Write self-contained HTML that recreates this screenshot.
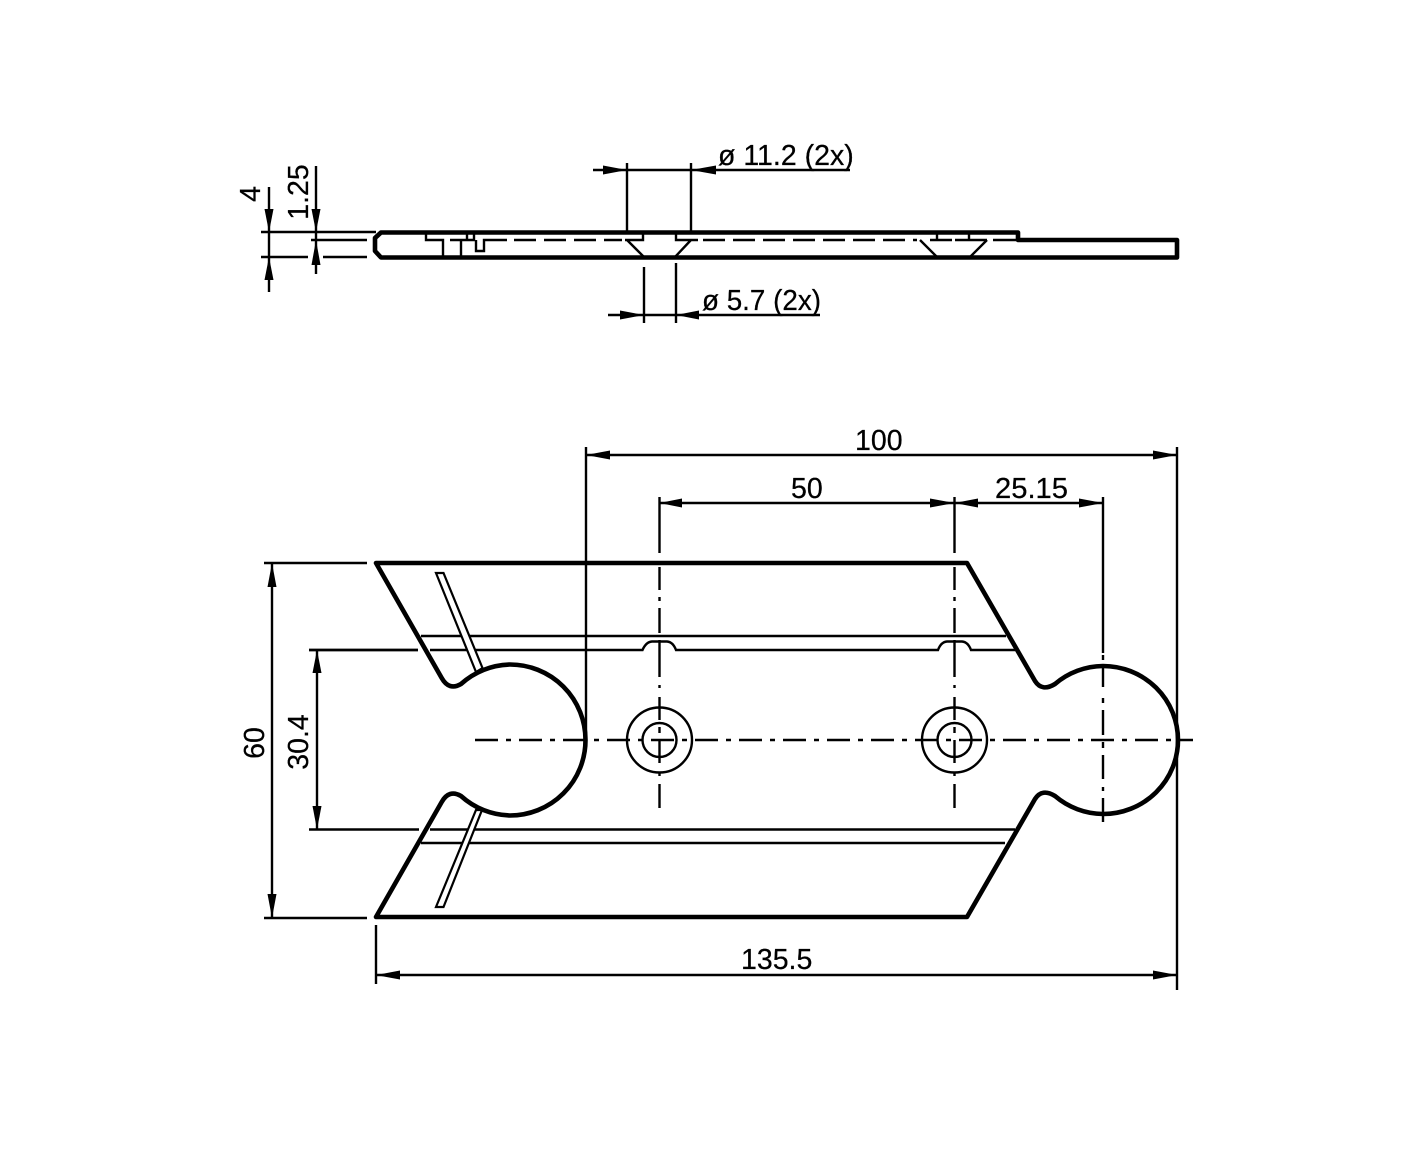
<!DOCTYPE html>
<html><head><meta charset="utf-8"><style>
html,body{margin:0;padding:0;background:#fff}
svg{display:block}
text{font-family:"Liberation Sans",sans-serif;font-size:28.5px;fill:#000;stroke:#000;stroke-width:.25}
.o{fill:none;stroke:#000;stroke-width:4.6;stroke-linejoin:round;stroke-linecap:round}
.t{fill:none;stroke:#000;stroke-width:2.4}
.h{fill:#000;stroke:none}
</style></head><body>
<svg width="1418" height="1170" viewBox="0 0 1418 1170" xmlns="http://www.w3.org/2000/svg">
<rect width="1418" height="1170" fill="#fff"/>

<!-- SIDE VIEW -->
<path class="t" d="M426 233V240H443V257M461 240V257M450 240H475M467 233V240M474 233V240M476 240V251H484V240H507"/>
<path class="t" stroke-dasharray="22 8" d="M514 240H622"/>
<path class="t" d="M627 240L644 257M691 240L675 257M625 240H643V233M676 233V240H698"/>
<path class="t" stroke-dasharray="22 8" d="M703 240H917"/>
<path class="t" d="M920 240L937 257M987 240L970 257M930 240H952M955 240H987M937 233V240M969 233V240M993 240H1016"/>
<path class="o" d="M381 232.500L1018 232.500V240H1177V257.500H381L375 251V238L381 232.500Z"/>

<!-- side dims -->
<path class="t" d="M261 232H376M311 240H367M261 257H308M323 257H367"/>
<path class="t" d="M269 187V292M316 166V274"/>
<polygon class="h" points="269,232 264.500,209 273.500,209"/>
<polygon class="h" points="269,257 264.500,280 273.500,280"/>
<polygon class="h" points="316,232 311.500,209 320.500,209"/>
<polygon class="h" points="316,240 311.500,265 320.500,265"/>
<text transform="translate(260 194) rotate(-90)" text-anchor="middle">4</text>
<text transform="translate(308 192) rotate(-90)" text-anchor="middle">1.25</text>

<path class="t" d="M627 163V232M691 163V232M593 170H850"/>
<polygon class="h" points="627,170 603,165.500 603,174.500"/>
<polygon class="h" points="691,170 716,165.500 716,174.500"/>
<text x="718" y="165">ø 11.2 (2x)</text>

<path class="t" d="M644 267V323M676 263V323M608 315H820"/>
<polygon class="h" points="644,315 620,310.500 620,319.500"/>
<polygon class="h" points="676,315 699,310.500 699,319.500"/>
<text x="702" y="310" textLength="119" lengthAdjust="spacingAndGlyphs">ø 5.7 (2x)</text>

<!-- PLAN VIEW inner lines -->
<path class="t" d="M421 636H1006"/>
<path class="t" d="M309 650H418M430 650H642.500Q646 642 652 641.500H667Q673 642 676 650H938Q941 642 947 641.500H962Q968 642 971 650H1015"/>
<path class="t" d="M309 829.500H419M430 829.500H1015"/>
<path class="t" d="M421 843H1005"/>
<polygon fill="#fff" stroke="#000" stroke-width="2.200" points="436,573 443.500,573 482.500,668 476,672"/>
<polygon fill="#fff" stroke="#000" stroke-width="2.200" points="436,907 443.500,907 482,810 476,810"/>

<!-- holes -->
<circle class="t" cx="659.500" cy="740" r="32.500"/>
<circle class="t" cx="659.500" cy="740" r="17"/>
<circle class="t" cx="954.500" cy="740" r="32.500"/>
<circle class="t" cx="954.500" cy="740" r="17"/>

<!-- outline -->
<path class="o" d="M376 563H967L1035 681Q1042 692 1055 684A75 75 0 0 1 1103 666A75 74 0 0 1 1178 740A75 74 0 0 1 1103 814A75 75 0 0 1 1055 796Q1042 788 1035 799L967 917H376L441.700 802Q449 789 461 796A75.500 75.500 0 0 0 510 815.500A75.500 75.500 0 0 0 585.500 740A75.500 75.500 0 0 0 510 664.500A75.500 75.500 0 0 0 461 684Q449 691 441.700 678Z"/>

<!-- center lines -->
<path class="t" stroke-dasharray="23 8 5 8" d="M475 740H1193"/>
<path class="t" d="M659.500 497V553M659.500 567V590M659.500 597V601M659.500 608V633M659.500 640V677M659.500 685V688M659.500 697V720M659.500 727V733M659.500 740V763M659.500 773V776M659.500 784V808"/>
<path class="t" d="M954.500 497V553M954.500 567V590M954.500 597V601M954.500 608V633M954.500 640V677M954.500 685V688M954.500 697V720M954.500 727V733M954.500 740V763M954.500 773V776M954.500 784V808"/>
<path class="t" d="M1103 497V653M1103 655V660M1103 668V687M1103 698V703M1103 710V735M1103 742V748M1103 755V779M1103 787V791M1103 798V822"/>

<!-- dims top -->
<path class="t" d="M586 447V740M1177 447V740"/>
<path class="t" d="M586 455H1177"/>
<polygon class="h" points="586,455 610,450.500 610,459.500"/>
<polygon class="h" points="1177,455 1153,450.500 1153,459.500"/>
<text x="855" y="450">100</text>

<path class="t" d="M659.500 503H1103"/>
<polygon class="h" points="659.500,503 682,498.500 682,507.500"/>
<polygon class="h" points="954.500,503 930,498.500 930,507.500"/>
<polygon class="h" points="954.500,503 978,498.500 978,507.500"/>
<polygon class="h" points="1103,503 1079,498.500 1079,507.500"/>
<text x="791" y="498">50</text>
<text x="995" y="498" textLength="73" lengthAdjust="spacingAndGlyphs">25.15</text>

<!-- dims left -->
<path class="t" d="M264 563H367M264 918H367M272 563V918"/>
<polygon class="h" points="272,563 267.500,587 276.500,587"/>
<polygon class="h" points="272,918 267.500,894 276.500,894"/>
<text transform="translate(264 743) rotate(-90)" text-anchor="middle">60</text>
<path class="t" d="M317 650V829M309 650H418"/>
<polygon class="h" points="317,650 312.500,673 321.500,673"/>
<polygon class="h" points="317,829.500 312.500,806 321.500,806"/>
<text transform="translate(308 742) rotate(-90)" text-anchor="middle">30.4</text>

<!-- dim bottom -->
<path class="t" d="M376 925V984M1177 740V990M376 975H1177"/>
<polygon class="h" points="376,975 400,970.500 400,979.500"/>
<polygon class="h" points="1177,975 1153,970.500 1153,979.500"/>
<text x="741" y="969">135.5</text>
</svg>
</body></html>
